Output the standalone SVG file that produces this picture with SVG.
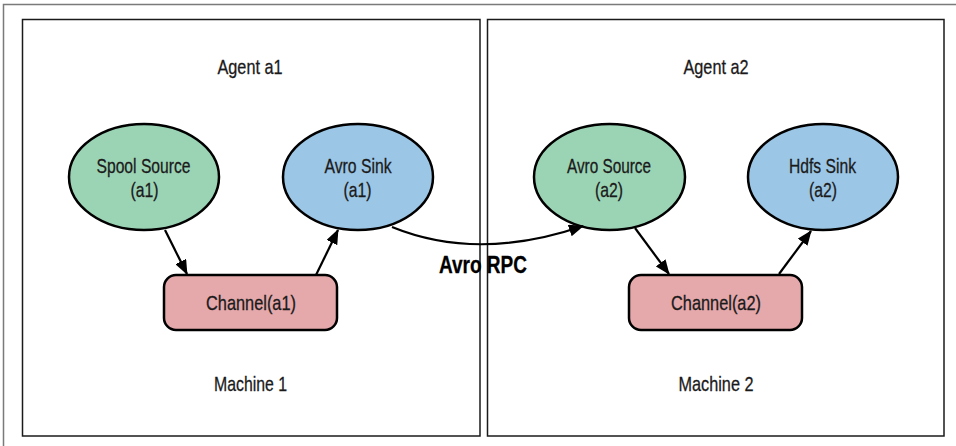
<svg xmlns="http://www.w3.org/2000/svg" width="956" height="446" viewBox="0 0 956 446">
  <defs>
    <marker id="arrow" viewBox="0 0 15 12" refX="14" refY="6" markerWidth="15" markerHeight="12" markerUnits="userSpaceOnUse" orient="auto">
      <path d="M0,0 L15,6 L0,12 Z" fill="#000"/>
    </marker>
  </defs>
  <style>
    text { font-family: "Liberation Sans", Arial, sans-serif; font-size: 21px; fill: #1a1a1a; stroke: #1a1a1a; stroke-width: 0.3; text-anchor: middle; }
    .frame { fill: none; stroke: #7a7a7a; stroke-width: 1.5; }
    .machine { fill: #fff; stroke: #1a1a1a; stroke-width: 1.5; }
    .source { fill: #9bd4b5; stroke: #000; stroke-width: 2.5; }
    .sink { fill: #9cc6e5; stroke: #000; stroke-width: 2.5; }
    .channel { fill: #e5a8ab; stroke: #000; stroke-width: 2.5; }
    .edge { fill: none; stroke: #000; stroke-width: 2.2; marker-end: url(#arrow); }
    .rpc { font-weight: bold; font-size: 23px; fill: #000; stroke: #000; }
  </style>

  <rect width="956" height="446" fill="#fff"/>
  <!-- page frame -->
  <path class="frame" d="M3.5,446 V4.5 H956"/>

  <!-- machine 1 -->
  <g id="machine1">
    <rect class="machine" x="22.5" y="19.5" width="457.5" height="416.5"/>
    <text x="250" y="74" textLength="65" lengthAdjust="spacingAndGlyphs">Agent a1</text>
    <text x="250.5" y="390.5" textLength="73" lengthAdjust="spacingAndGlyphs">Machine 1</text>
  </g>
  <!-- machine 2 -->
  <g id="machine2">
    <rect class="machine" x="487.5" y="19.5" width="456.5" height="416.5"/>
    <text x="716" y="74" textLength="65" lengthAdjust="spacingAndGlyphs">Agent a2</text>
    <text x="716" y="390.5" textLength="75" lengthAdjust="spacingAndGlyphs">Machine 2</text>
  </g>

  <g id="spool-source-a1">
    <ellipse class="source" cx="144" cy="177" rx="75" ry="53"/>
    <text x="143.5" y="172.5" textLength="94" lengthAdjust="spacingAndGlyphs">Spool Source</text>
    <text x="144.5" y="197" textLength="28" lengthAdjust="spacingAndGlyphs">(a1)</text>
  </g>
  <g id="avro-sink-a1">
    <ellipse class="sink" cx="358" cy="177" rx="75" ry="53"/>
    <text x="358" y="172.5" textLength="67" lengthAdjust="spacingAndGlyphs">Avro Sink</text>
    <text x="357.5" y="197" textLength="28" lengthAdjust="spacingAndGlyphs">(a1)</text>
  </g>
  <g id="channel-a1">
    <rect class="channel" x="164" y="275" width="173" height="55" rx="12"/>
    <text x="251" y="310" textLength="90" lengthAdjust="spacingAndGlyphs">Channel(a1)</text>
  </g>

  <g id="avro-source-a2">
    <ellipse class="source" cx="609.5" cy="177" rx="75.5" ry="53"/>
    <text x="609" y="172.5" textLength="84" lengthAdjust="spacingAndGlyphs">Avro Source</text>
    <text x="609" y="197" textLength="28" lengthAdjust="spacingAndGlyphs">(a2)</text>
  </g>
  <g id="hdfs-sink-a2">
    <ellipse class="sink" cx="823" cy="177" rx="75" ry="53"/>
    <text x="822.5" y="172.5" textLength="67" lengthAdjust="spacingAndGlyphs">Hdfs Sink</text>
    <text x="823" y="197" textLength="28" lengthAdjust="spacingAndGlyphs">(a2)</text>
  </g>
  <g id="channel-a2">
    <rect class="channel" x="629" y="275" width="173" height="55" rx="12"/>
    <text x="716" y="310" textLength="90" lengthAdjust="spacingAndGlyphs">Channel(a2)</text>
  </g>

  <g id="connectors">
    <path class="edge" d="M165,230 L187,274"/>
    <path class="edge" d="M316,275 L338,230"/>
    <path class="edge" d="M392,227 Q478,262 583,226"/>
    <path class="edge" d="M635,228 L669,274"/>
    <path class="edge" d="M779,274 L811,231"/>
    <text class="rpc" x="483" y="273" textLength="88" lengthAdjust="spacingAndGlyphs">Avro RPC</text>
  </g>
</svg>
